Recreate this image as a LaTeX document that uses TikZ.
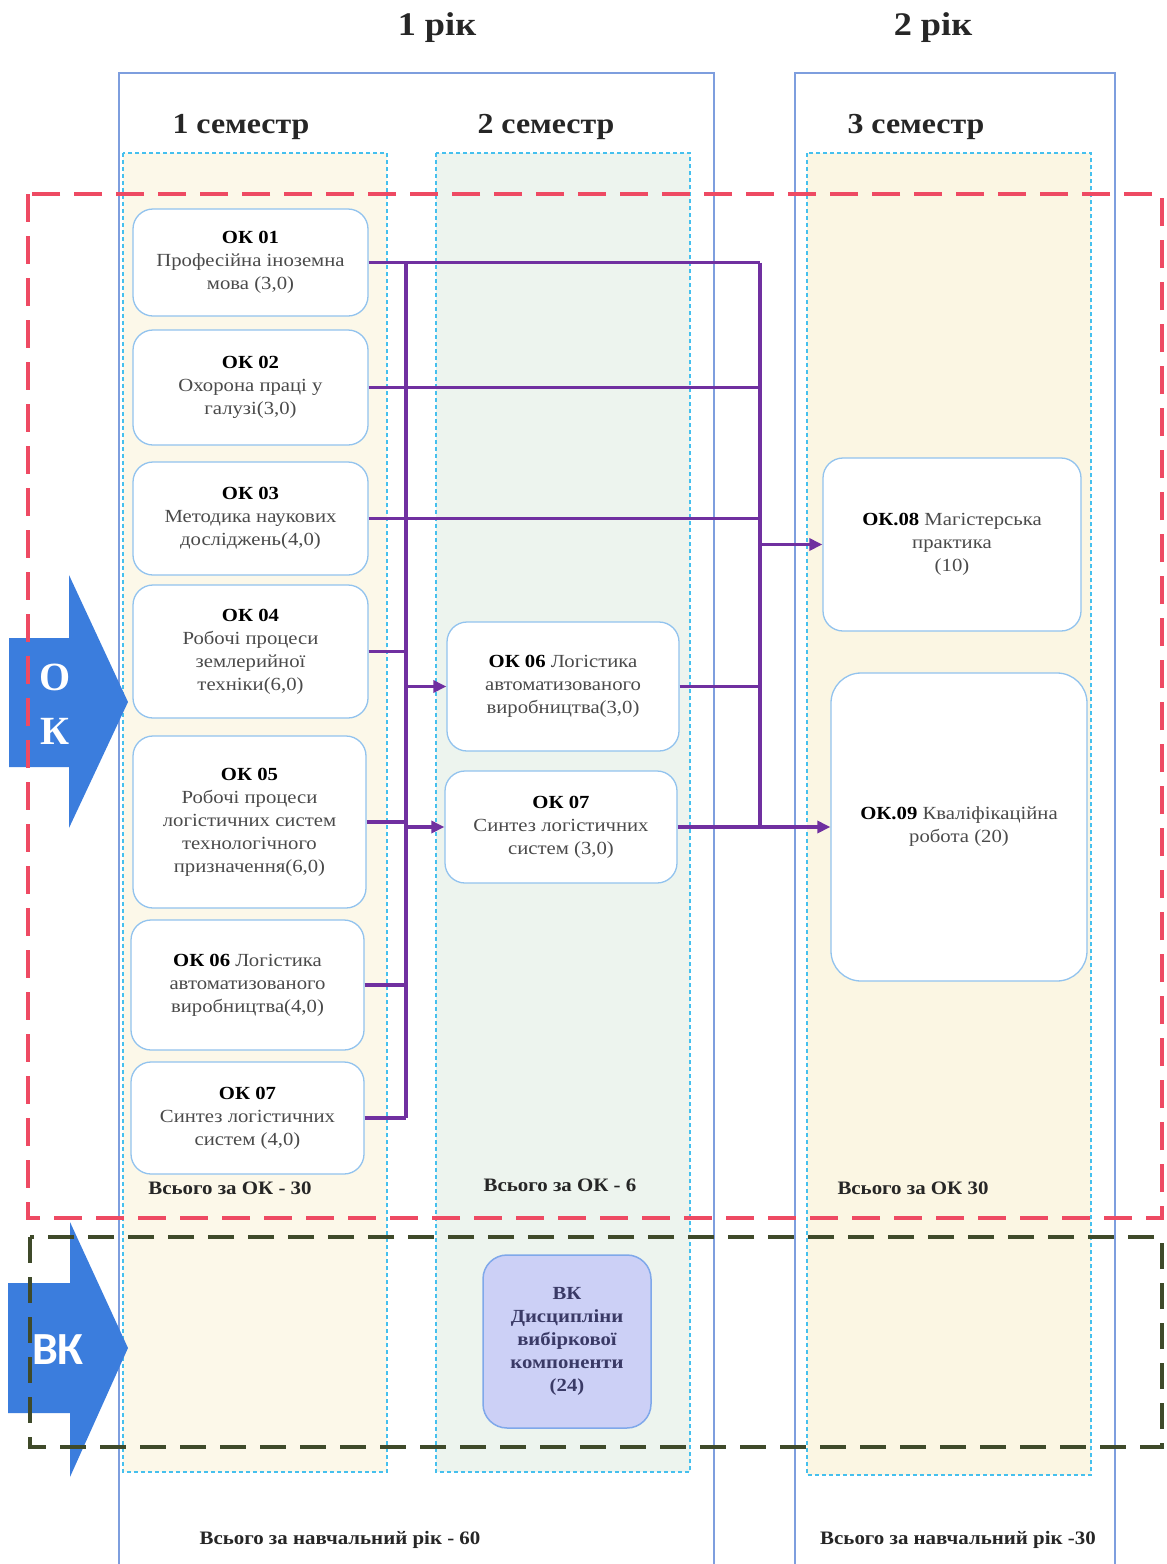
\documentclass[tikz,border=0pt]{standalone}
\usepackage{fontspec}
\setmainfont{Liberation Serif}
\newfontfamily\boxfont[FakeStretch=1.12]{Liberation Serif}
\newfontfamily\widefont[FakeStretch=1.1]{Liberation Serif}
\newfontfamily\vkfont{Carlito}
\usetikzlibrary{arrows.meta}
\definecolor{yearblue}{HTML}{7E9EDE}
\definecolor{colcyan}{HTML}{45C0EE}
\definecolor{creamA}{HTML}{FCF8E9}
\definecolor{mintB}{HTML}{EDF4EE}
\definecolor{creamC}{HTML}{FBF6E3}
\definecolor{okred}{HTML}{EE4A63}
\definecolor{vkgreen}{HTML}{3F4A2A}
\definecolor{arrblue}{HTML}{3B7DDD}
\definecolor{boxblue}{HTML}{92C3EE}
\definecolor{bodygray}{HTML}{4A4A4A}
\definecolor{linkpurple}{HTML}{7030A0}
\definecolor{vkfill}{HTML}{CCD0F6}
\definecolor{vkborder}{HTML}{7FA8EA}
\definecolor{vktext}{HTML}{3A3A66}
\tikzset{
  okbox/.style={draw=boxblue, line width=1.3pt, fill=white, rounded corners=20pt,
    align=center, inner sep=0pt, text=bodygray,
    font=\boxfont\fontsize{18.5}{23}\selectfont},
  semcol/.style={draw=colcyan, line width=1.2pt, dash pattern=on 4pt off 3pt},
  yearbox/.style={draw=yearblue, line width=1.3pt},
  link/.style={draw=linkpurple, line width=3.6pt},
  bus/.style={draw=linkpurple, line width=4.8pt},
  linkarrow/.style={draw=linkpurple, line width=3.6pt, -{Triangle[length=13pt,width=12pt]}},
  title/.style={font=\widefont\fontsize{33}{36}\selectfont\bfseries, text=black!85},
  semtitle/.style={font=\widefont\fontsize{29}{32}\selectfont\bfseries, text=black!85},
  total/.style={font=\widefont\fontsize{19}{22}\selectfont\bfseries, text=black!85},
}
\newcommand{\hd}[1]{{\bfseries\color{black}#1}}
\begin{document}
\begin{tikzpicture}[x=1pt,y=-1pt]
\useasboundingbox[fill=white] (0,0) rectangle (1167,1564);

% year headings
\node[title] (y1) at (437,28) {1 рік};
\node[title] (y2) at (933,28) {2 рік};

% year frames
\draw[yearbox] (119,1564) -- (119,73) -- (714,73) -- (714,1564);
\draw[yearbox] (795,1564) -- (795,73) -- (1115,73) -- (1115,1564);

% semester titles
\node[semtitle] (s1t) at (241,127) {1 семестр};
\node[semtitle] (s2t) at (546,127) {2 семестр};
\node[semtitle] (s3t) at (916,127) {3 семестр};

% semester columns
\draw[semcol, fill=creamA] (123,153) rectangle (387,1472);
\draw[semcol, fill=mintB] (436,153) rectangle (690,1472);
\draw[semcol, fill=creamC] (807,153) rectangle (1091,1475);

% side arrows
\fill[arrblue] (9,638) -- (69,638) -- (69,575) -- (128,702) -- (69,828) -- (69,767) -- (9,767) -- cycle;
\node[text=white, font=\fontsize{40}{40}\selectfont\bfseries] (oko) at (55,677) {О};
\node[text=white, font=\fontsize{40}{40}\selectfont\bfseries] (okk) at (55,731) {К};
\fill[arrblue] (8,1283) -- (70,1283) -- (70,1222) -- (128,1348) -- (70,1477) -- (70,1413) -- (8,1413) -- cycle;
\node[text=white, font=\fontsize{46}{46}\selectfont\vkfont\bfseries] (vklab) at (58,1350) {ВК};

% component frames
\draw[okred, line width=4pt, dash pattern=on 28pt off 14pt] (28,194) rectangle (1162,1218);
\draw[vkgreen, line width=4pt, dash pattern=on 26pt off 14pt] (30,1237) rectangle (1162,1447);

% semester 1 boxes
\node[okbox, minimum width=235pt, minimum height=107pt] (ok1) at (250.5,262.5)
  {\hd{ОК 01}\\Професійна іноземна\\мова (3,0)};
\node[okbox, minimum width=235pt, minimum height=115pt] (ok2) at (250.5,387.5)
  {\hd{ОК 02}\\Охорона праці у\\галузі(3,0)};
\node[okbox, minimum width=235pt, minimum height=113pt] (ok3) at (250.5,518.5)
  {\hd{ОК 03}\\Методика наукових\\досліджень(4,0)};
\node[okbox, minimum width=235pt, minimum height=133pt] (ok4) at (250.5,651.5)
  {\hd{ОК 04}\\Робочі процеси\\землерийної\\техніки(6,0)};
\node[okbox, minimum width=233pt, minimum height=172pt] (ok5) at (249.5,822)
  {\hd{ОК 05}\\Робочі процеси\\логістичних систем\\технологічного\\призначення(6,0)};
\node[okbox, minimum width=233pt, minimum height=130pt] (ok6) at (247.5,985)
  {\hd{ОК 06} Логістика\\автоматизованого\\виробництва(4,0)};
\node[okbox, minimum width=233pt, minimum height=112pt] (ok7) at (247.5,1118)
  {\hd{ОК 07}\\Синтез логістичних\\систем (4,0)};
\node[total] (t1) at (230,1188) {Всього за ОК - 30};

% semester 2 boxes
\node[okbox, minimum width=232pt, minimum height=129pt] (s6) at (563,686.5)
  {\hd{ОК 06} Логістика\\автоматизованого\\виробництва(3,0)};
\node[okbox, minimum width=232pt, minimum height=112pt] (s7) at (561,827)
  {\hd{ОК 07}\\Синтез логістичних\\систем (3,0)};
\node[total] (t2) at (560,1185) {Всього за ОК - 6};
\node[draw=vkborder, line width=1.5pt, fill=vkfill, rounded corners=24pt,
  minimum width=168pt, minimum height=173pt, align=center, text=vktext, inner sep=0pt,
  font=\boxfont\fontsize{18.5}{23}\selectfont\bfseries] (vk) at (567,1341.5)
  {ВК\\Дисципліни\\вибіркової\\компоненти\\(24)};

% semester 3 boxes
\node[okbox, minimum width=258pt, minimum height=173pt] (ok8) at (952,544.5)
  {\hd{ОК.08} Магістерська\\практика\\(10)};
\node[okbox, minimum width=256pt, minimum height=308pt, rounded corners=30pt] (ok9) at (959,827)
  {\hd{ОК.09} Кваліфікаційна\\робота (20)};
\node[total] (t3) at (913,1188) {Всього за ОК 30};

% totals per year
\node[total] (ty1) at (340,1540) {Всього за навчальний рік - 60};
\node[total] (ty2) at (958,1540) {Всього за навчальний рік -30};

% connectors
\coordinate (lb) at (406,0);
\coordinate (rb) at (760,0);
\draw[link] (ok1.east) -- (ok1.east -| rb);
\draw[link] (ok2.east) -- (ok2.east -| rb);
\draw[link] (ok3.east) -- (ok3.east -| rb);
\draw[link] (ok4.east) -- (ok4.east -| lb);
\draw[link] (ok5.east) -- (ok5.east -| lb);
\draw[link] (ok6.east) -- (ok6.east -| lb);
\draw[link] (ok7.east) -- (ok7.east -| lb);
\draw[bus] (lb |- ok1.east) -- (lb |- ok7.east);
\draw[linkarrow] (lb |- s6.west) -- (s6.west);
\draw[linkarrow] (lb |- s7.west) -- (s7.west);
\draw[link] (s6.east) -- (s6.east -| rb);
\draw[bus] (rb |- ok1.east) -- (rb |- s7.east);
\draw[linkarrow] (s7.east) -- (s7.east -| ok9.west);
\draw[linkarrow] (rb |- ok8.west) -- (ok8.west);
\end{tikzpicture}
\end{document}
